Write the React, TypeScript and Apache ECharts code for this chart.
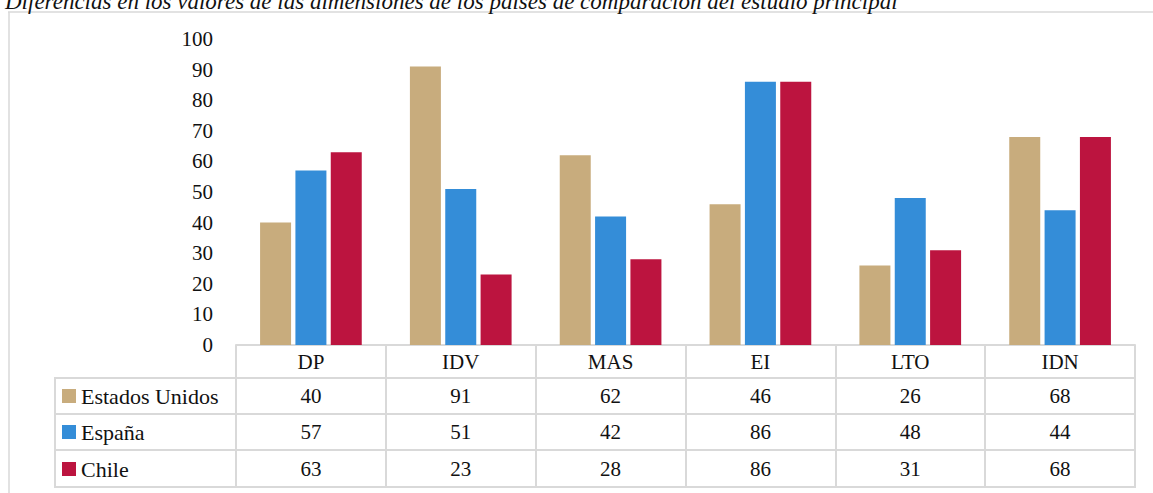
import React, { useEffect, useRef } from "react";
import * as echarts from "echarts";

const categories = ["DP", "IDV", "MAS", "EI", "LTO", "IDN"];
const estadosUnidos = [40, 91, 62, 46, 26, 68];
const espana = [57, 51, 42, 86, 48, 44];
const chile = [63, 23, 28, 86, 31, 68];
const seriesNames = ["Estados Unidos", "España", "Chile"];
const titleText =
  "Diferencias en los valores de las dimensiones de los países de comparación del estudio principal";

const W = 1153;
const H = 493;
const GL = 236;
const GR = 1135;
const GT = 39;
const GB = 345;
const rowLines = [378, 414, 450, 487];
const TABLE_LEFT = 55;
const FONT = "Liberation Serif";
const FS = 21;
const LINE = "#d9d9d9";
const colors = ["#C8AC7D", "#348DD8", "#BC143F"];

export default function App() {
  const ref = useRef<HTMLDivElement>(null);
  useEffect(() => {
    if (!ref.current) return;
    const chart = echarts.init(ref.current, undefined, { renderer: "svg" });
    const valueRows = [estadosUnidos, espana, chile];
    const rowCenters = [396, 432, 469];
    const headerCenter = 362;

    const xAxes: any[] = [
      {
        type: "category",
        data: categories,
        gridIndex: 0,
        position: "bottom",
        axisLine: { show: true, lineStyle: { color: LINE, width: 2 } },
        axisTick: { show: true, length: rowLines[3] - GB, lineStyle: { color: LINE, width: 2 } },
        axisLabel: {
          fontFamily: FONT,
          fontSize: FS,
          color: "#111",
          margin: headerCenter - GB - FS / 2,
        },
      },
    ];
    valueRows.forEach((vals, i) => {
      xAxes.push({
        type: "category",
        data: vals.map(String),
        gridIndex: 0,
        position: "bottom",
        axisLine: { show: false },
        axisTick: { show: false },
        axisLabel: {
          fontFamily: FONT,
          fontSize: FS,
          color: "#111",
          margin: rowCenters[i] - GB - FS / 2,
        },
      });
    });

    const series = [estadosUnidos, espana, chile].map((d, i) => ({
      name: seriesNames[i],
      type: "bar",
      xAxisIndex: 0,
      data: d,
      barWidth: 31,
      barGap: "14%",
      itemStyle: { color: colors[i] },
    }));

    const LFS = 22;
    const legends = seriesNames.map((n, i) => ({
      data: [n],
      left: 62,
      top: rowCenters[i] - LFS / 2,
      padding: 0,
      itemWidth: 14,
      itemHeight: 14,
      itemGap: 0,
      icon: "rect",
      selectedMode: false,
      textStyle: {
        fontFamily: FONT,
        fontSize: LFS,
        color: "#111",
        lineHeight: LFS,
        padding: [0, 0, 0, 0],
      },
    }));

    const TFS = 23;
    const graphics: any[] = [
      {
        type: "line",
        shape: { x1: 8, y1: 12, x2: W, y2: 12 },
        style: { stroke: LINE, lineWidth: 1.5 },
      },
      {
        type: "line",
        shape: { x1: 9, y1: 12, x2: 9, y2: H },
        style: { stroke: LINE, lineWidth: 1.5 },
      },
      {
        type: "text",
        x: 5,
        y: 1,
        style: {
          text: titleText,
          font: `italic ${TFS}px ${FONT}`,
          fill: "#111",
          verticalAlign: "middle",
        },
      },
      {
        type: "line",
        shape: { x1: TABLE_LEFT, y1: rowLines[0], x2: TABLE_LEFT, y2: rowLines[3] },
        style: { stroke: LINE, lineWidth: 2 },
      },
    ];
    rowLines.forEach((y) => {
      graphics.push({
        type: "line",
        shape: { x1: TABLE_LEFT - 1, y1: y, x2: GR + 1, y2: y },
        style: { stroke: LINE, lineWidth: 2 },
      });
    });

    chart.setOption({
      animation: false,
      backgroundColor: "#ffffff",
      textStyle: { fontFamily: FONT },
      grid: { left: GL, right: W - GR, top: GT, bottom: H - GB, containLabel: false },
      legend: legends,
      xAxis: xAxes,
      yAxis: {
        type: "value",
        min: 0,
        max: 100,
        interval: 10,
        axisLine: { show: false },
        axisTick: { show: false },
        splitLine: { show: false },
        axisLabel: { fontFamily: FONT, fontSize: FS, color: "#111", margin: 23 },
      },
      series,
      graphic: graphics,
    });
    return () => chart.dispose();
  }, []);
  return (
    <div
      ref={ref}
      style={{ position: "fixed", left: 0, top: 0, width: W, height: H, background: "#fff" }}
    />
  );
}
